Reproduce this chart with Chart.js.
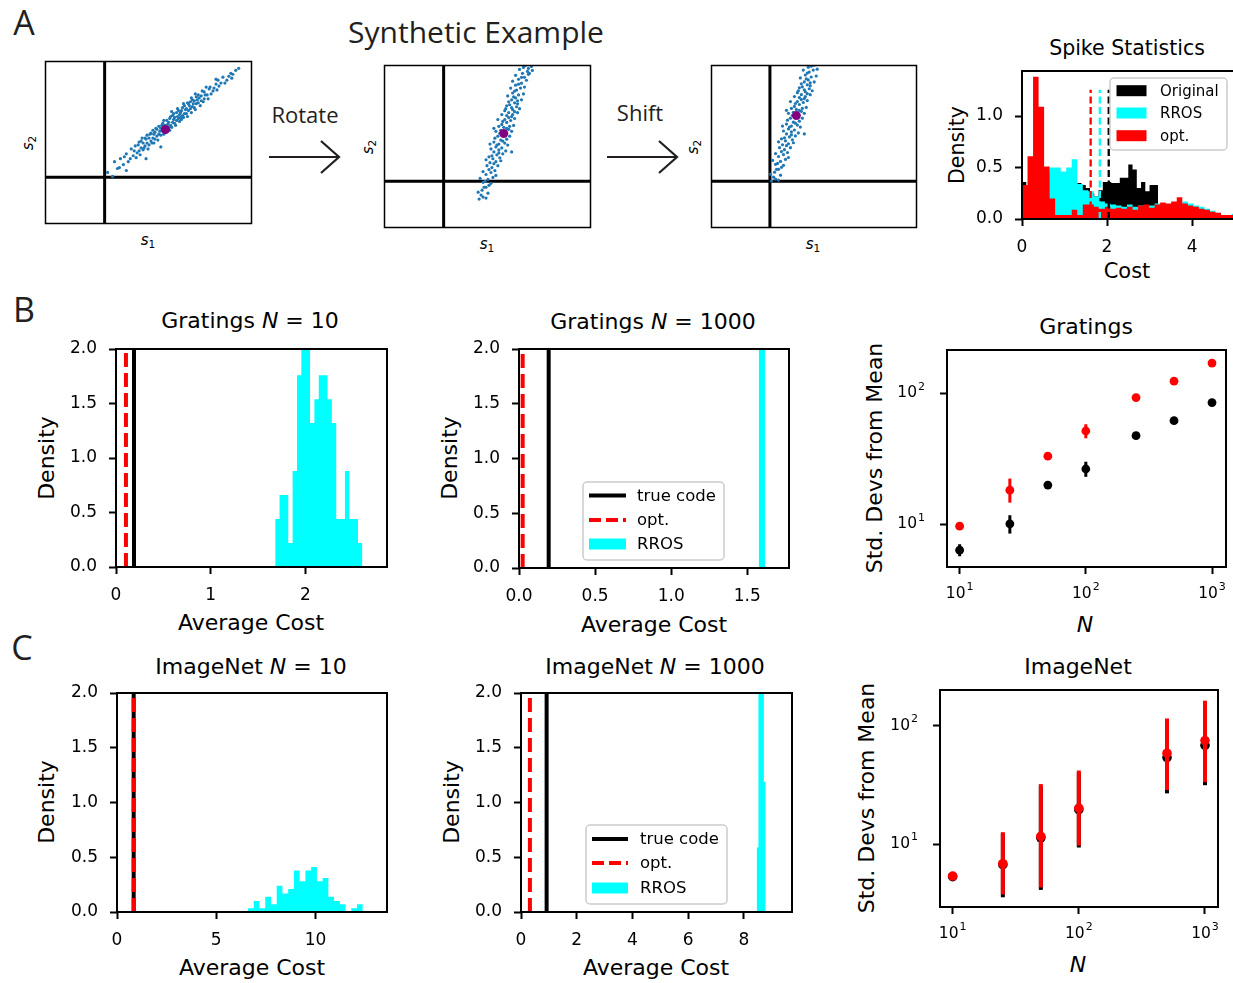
<!DOCTYPE html>
<html>
<head>
<meta charset="utf-8">
<script src="https://cdn.jsdelivr.net/npm/chart.js@4.4.1/dist/chart.umd.min.js"></script>
<style>
  html, body { margin: 0; padding: 0; background: #fff; overflow: hidden; }
  body { width: 1233px; height: 983px; position: relative; font-family: 'DejaVu Sans', sans-serif; }
  canvas { position: absolute; }
  .t { position: absolute; transform: translate(-50%, -50%); white-space: nowrap; color: #000; line-height: 1; }
  .rot { transform: translate(-50%, -50%) rotate(-90deg); }
  .my { font-family: 'Open Sans', sans-serif; color: #231f20; }
  .m22 { font-size: 22px; }
  .sub { font-size: 0.7em; font-style: normal; position: relative; top: 0.25em; }
</style>
</head>
<body>
<svg width="1233" height="983" style="position:absolute;left:0;top:0">
  <g stroke="#231f20" stroke-width="2.2" fill="none">
    <line x1="269" y1="157" x2="339" y2="157"/>
    <polyline points="321,141 339,157 321,173"/>
    <line x1="607" y1="157" x2="677" y2="157"/>
    <polyline points="659,141 677,157 659,173"/>
  </g>
</svg>

<div class="t my" style="left:24px;top:22px;font-size:34px">A</div>
<div class="t my" style="left:24px;top:309px;font-size:34px">B</div>
<div class="t my" style="left:22px;top:647px;font-size:34px">C</div>
<div class="t my" style="left:476px;top:32px;font-size:30px">Synthetic Example</div>
<div class="t my" style="left:305px;top:114px;font-size:22px">Rotate</div>
<div class="t my" style="left:640px;top:112px;font-size:22px">Shift</div>

<div class="t" style="left:148px;top:240px;font-size:15px"><i>s</i><span class="sub">1</span></div>
<div class="t" style="left:487px;top:244px;font-size:15px"><i>s</i><span class="sub">1</span></div>
<div class="t" style="left:813px;top:244px;font-size:15px"><i>s</i><span class="sub">1</span></div>
<div class="t rot" style="left:28px;top:143px;font-size:15px"><i>s</i><span class="sub">2</span></div>
<div class="t rot" style="left:368px;top:147px;font-size:15px"><i>s</i><span class="sub">2</span></div>
<div class="t rot" style="left:693px;top:147px;font-size:15px"><i>s</i><span class="sub">2</span></div>

<div class="t" style="left:1127px;top:48px;font-size:20.5px">Spike Statistics</div>
<div class="t rot" style="left:957px;top:145px;font-size:20.5px">Density</div>
<div class="t" style="left:1127px;top:271px;font-size:21px">Cost</div>

<div class="t m22" style="left:250px;top:321px">Gratings <i>N</i> = 10</div>
<div class="t m22" style="left:653px;top:322px">Gratings <i>N</i> = 1000</div>
<div class="t m22" style="left:1086px;top:327px">Gratings</div>
<div class="t m22" style="left:251px;top:667px">ImageNet <i>N</i> = 10</div>
<div class="t m22" style="left:655px;top:667px">ImageNet <i>N</i> = 1000</div>
<div class="t m22" style="left:1078px;top:667px">ImageNet</div>

<div class="t m22" style="left:251px;top:623px">Average Cost</div>
<div class="t m22" style="left:654px;top:625px">Average Cost</div>
<div class="t m22" style="left:252px;top:968px">Average Cost</div>
<div class="t m22" style="left:656px;top:968px">Average Cost</div>
<div class="t m22" style="left:1085px;top:625px"><i>N</i></div>
<div class="t m22" style="left:1078px;top:965px"><i>N</i></div>

<div class="t m22 rot" style="left:47px;top:458px">Density</div>
<div class="t m22 rot" style="left:450px;top:458px">Density</div>
<div class="t m22 rot" style="left:47px;top:802px">Density</div>
<div class="t m22 rot" style="left:452px;top:802px">Density</div>
<div class="t m22 rot" style="left:875px;top:458px">Std. Devs from Mean</div>
<div class="t m22 rot" style="left:867px;top:798px">Std. Devs from Mean</div>

<script>
// ---------- Panel A: synthetic responses (arbitrary units, origin at the black axes) ----------
const cloudBefore = [
  [0.3,0.5],[0.8,0.1],[1.0,1.6],[1.3,0.9],[1.6,1.9],[1.9,1.3],[2.2,2.4],[2.2,0.7],[2.4,1.6],[2.7,2.9],
  [2.9,2.2],[3.1,3.2],[3.3,2.5],[3.5,3.6],[3.5,2.7],[3.7,3.0],[3.7,3.7],[3.9,2.8],[3.9,3.5],[4.1,4.0],
  [4.1,3.2],[4.2,1.9],[4.3,3.5],[4.3,4.3],[4.5,3.3],[4.5,4.0],[4.7,4.5],[4.7,3.7],[4.9,4.0],[4.9,4.8],
  [5.1,3.9],[5.1,4.6],[5.3,4.9],[5.3,4.2],[5.5,4.4],[5.5,5.2],[5.7,4.3],[5.7,5.0],[5.7,3.1],[5.9,5.5],
  [5.9,4.7],[6.1,5.3],[6.3,4.9],[6.3,5.8],[6.5,5.1],[6.5,5.6],[6.7,6.2],[6.7,5.3],[6.9,5.6],[6.9,6.3],
  [7.1,5.5],[7.1,6.1],[7.3,6.6],[7.3,5.8],[7.5,6.0],[7.5,6.8],[7.7,6.1],[7.7,6.6],[7.9,7.1],[7.9,6.3],
  [8.1,6.5],[8.1,7.3],[8.3,7.0],[8.3,6.5],[8.5,7.5],[8.5,6.8],[8.7,7.0],[8.7,7.7],[8.9,7.2],[8.9,7.9],
  [9.1,7.8],[9.1,7.1],[9.3,8.2],[9.3,7.5],[9.5,7.6],[9.5,8.4],[9.8,8.3],[9.8,7.8],[10.1,8.7],[10.1,8.0],
  [10.4,8.4],[10.7,9.2],[11.0,8.8],[11.3,9.5],[11.3,10.0],[11.6,9.3],[12.0,10.2],[12.4,9.9],[12.8,10.6],
  [12.9,10.1],[13.3,10.9],[13.6,11.1],
  [1.5,1.0],[2.0,2.1],[2.6,1.9],[3.0,2.7],[3.2,2.0],[3.4,3.3],[3.6,2.3],[3.8,4.0],[4.0,3.0],[4.2,3.9],
  [4.4,2.9],[4.6,4.4],[4.8,3.5],[5.0,4.4],[5.0,3.5],[5.2,5.0],[5.4,3.8],[5.6,4.7],[5.8,5.3],[6.0,4.4],
  [6.0,5.8],[6.2,4.6],[6.4,5.4],[6.6,4.8],[6.6,6.0],[6.8,5.1],[6.8,6.7],[7.0,5.9],[7.0,6.5],[7.2,5.3],
  [7.4,6.2],[7.4,7.0],[7.6,5.7],[7.6,6.4],[7.8,6.8],[7.8,5.9],[8.0,6.1],[8.0,7.5],[8.2,6.9],[8.4,7.6],
  [8.4,6.2],[8.6,7.3],[8.8,6.6],[8.8,8.1],[9.0,7.5],[9.2,6.9],[9.2,8.5],[9.4,7.9],[9.6,8.1],[9.7,7.3],
  [9.9,8.8],[10.0,7.7],[10.2,8.4],[10.3,9.2],[10.5,8.0],[10.6,9.0],[10.8,8.5],[11.1,9.1],[11.4,8.9],
  [11.5,9.9],[11.8,9.6],[12.2,9.6],[12.6,10.3],[13.0,10.5]
];
const cloudRotated = [
  [3.6,-1.8],[4.0,-1.6],[3.8,-1.4],[4.5,-1.2],[3.9,-0.9],[4.3,-0.6],[4.6,-0.4],[4.0,-0.1],[4.5,0.2],[5.0,0.4],
  [4.3,0.7],[4.8,0.9],[5.2,1.1],[4.6,1.2],[4.9,1.4],[5.5,1.6],[4.7,1.9],[5.3,2.0],[5.0,2.3],[5.7,2.4],
  [4.6,2.5],[5.4,2.7],[6.0,2.8],[6.9,3.0],[5.1,3.0],[5.6,3.2],[5.9,3.4],[5.3,3.5],[5.6,3.8],[6.2,3.9],
  [5.1,4.0],[5.8,4.2],[6.4,4.3],[5.5,4.6],[6.0,4.7],[6.3,5.0],[5.8,5.2],[6.6,5.3],[5.1,5.4],[6.1,5.5],
  [6.7,5.6],[5.9,5.8],[6.4,6.0],[6.8,6.2],[6.2,6.3],[6.6,6.5],[6.4,6.7],[7.0,6.8],[6.6,7.0],[7.2,7.1],
  [6.3,7.4],[6.9,7.5],[7.4,7.6],[6.7,7.8],[7.2,8.0],[7.5,8.2],[6.9,8.3],[7.1,8.6],[7.6,8.8],[7.0,9.0],
  [7.4,9.3],[7.8,9.5],[7.3,9.8],[7.9,10.0],[7.6,10.4],[8.2,10.6],[8.6,10.9],[8.0,11.0],[8.5,11.2],[8.6,11.5],
  [8.1,11.6],[8.9,11.7],
  [4.3,-1.7],[3.5,-1.1],[4.1,-0.6],[4.8,-0.2],[3.7,0.3],[4.2,0.0],[5.3,0.6],[4.0,1.0],[4.4,1.6],[5.1,1.8],
  [5.8,2.1],[4.3,2.2],[4.9,2.6],[5.6,2.9],[6.3,3.1],[4.8,3.3],[5.4,3.7],[6.5,3.7],[4.7,3.8],[6.0,4.1],
  [5.2,4.4],[6.7,4.6],[5.7,4.9],[5.3,5.1],[6.9,5.1],[6.4,5.4],[5.6,5.6],[7.1,5.7],[6.0,6.1],[5.5,6.3],
  [7.2,6.4],[6.9,6.6],[5.9,6.8],[7.5,7.0],[6.2,7.2],[7.0,7.3],[7.7,7.4],[6.4,7.7],[7.5,7.9],[6.6,8.1],
  [7.9,8.3],[7.3,8.5],[6.5,8.7],[8.1,8.9],[7.2,9.2],[6.8,9.5],[8.2,9.6],[7.6,9.9],[7.0,10.2],[8.4,10.3],
  [7.9,10.6],[7.3,10.8],[8.7,11.0],[7.7,11.4],[9.0,11.3],[8.3,11.8]
];
const cloudMeans = [[6.17, 4.87], [6.1, 4.87]];
const shiftedOrigin = [3.43, -1.83];   // where the axes sit after the shift, in rotated-cloud units

// ---------- Spike statistics ----------
const spikeBinWidths = [0.1, 0.13, 0.13];   // Original, RROS, opt.
const spikeOriginal = [0.36,0.15,0.15,0.15,0.15,0.2,0.2,0.2,0.25,0.25,0.25,0.3,0.3,0.35,0.33,0.30,
  0.25,0.22,0.28,0.36,0.36,0.35,0.35,0.40,0.40,0.53,0.48,0.30,0.36,0.27,0.33,0.33];
const spikeRros = [0.10,0.20,0.30,0.35,0.45,0.50,0.50,0.46,0.50,0.58,0.34,0.28,0.27,0.22,0.17,0.15,
  0.14,0.13,0.12,0.14,0.12,0.13,0.12,0.13,0.15,0.15,0.13,0.16,0.14,0.17,0.15,0.13,0.12,0.10,0.08,0.06,
  0.04,0.04,0.05];
const spikeOpt = [0.33,0.61,1.38,1.09,0.51,0.20,0.04,0.04,0.04,0.09,0.04,0.14,0.14,0.12,0.10,0.12,
  0.10,0.11,0.10,0.12,0.09,0.13,0.14,0.11,0.14,0.16,0.15,0.17,0.21,0.15,0.13,0.12,0.10,0.09,0.07,0.06,
  0.04,0.04,0.04];
const spikeMeanCost = [2.04, 1.83, 1.615];  // Original, RROS, opt.
const spikeCostTicks = [0, 2, 4];
const spikeDensityTicks = [0, 0.5, 1.0];

// ---------- B / C: average cost histograms (Gratings 10, Gratings 1000, ImageNet 10, ImageNet 1000) ----------
const rrosStart = [1.68, 1.575, 6.6, 8.46];
const rrosWidth = [0.046, 0.043, 0.289, 0.065];
const rrosGratings10 = [0.44,0.66,0.66,0.22,0.88,1.76,2.6,2.6,1.32,1.54,1.76,1.76,1.54,1.32,0.44,0.44,0.88,0.44,0.44,0.22];
const rrosGratings1000 = [23.0];
const rrosImageNet10 = [0.035,0.10,0.035,0.14,0.07,0.24,0.17,0.21,0.38,0.28,0.38,0.41,0.28,0.31,0.14,0.10,0.07,0,0.035,0.07];
const rrosImageNet1000 = [0.59,4.0,5.0,4.0,1.19];
const trueCodeCost = [0.19, 0.195, 0.84, 0.92];
const optCost = [0.105, 0.024, 0.84, 0.32];
const densityTicks = [0, 0.5, 1.0, 1.5, 2.0];
const costTicks = [[0, 1, 2], [0, 0.5, 1.0, 1.5], [0, 5, 10], [0, 2, 4, 6, 8]];

// ---------- B / C: std devs from mean ----------
const gratingsN = [10, 25, 50, 100, 250, 500, 1000];
const gratingsOpt = [9.66, 18.2, 33.1, 51.5, 92.7, 123.6, 169.9];
const gratingsOptLow = [9.4, 14.6, 32.2, 45.3, 90.5, 121, 166];
const gratingsOptHigh = [9.9, 22.3, 34.0, 58.0, 95.0, 126, 174];
const gratingsTrue = [6.33, 10.06, 19.9, 26.4, 47.4, 61.8, 84.9];
const gratingsTrueLow = [5.69, 8.48, 19.4, 23.0, 46.5, 60.8, 83.5];
const gratingsTrueHigh = [7.03, 11.7, 20.4, 30.0, 48.3, 62.8, 86.3];
const imagenetN = [10, 25, 50, 100, 500, 1000];
const imagenetOpt = [5.37, 6.82, 11.6, 20.1, 58.5, 74.8];
const imagenetOptLow = [5.2, 3.75, 4.3, 9.7, 28.6, 33.3];
const imagenetOptHigh = [5.5, 12.6, 32.1, 41.8, 115, 162.5];
const imagenetTrue = [5.3, 6.7, 11.3, 19.5, 53.7, 68.2];
const imagenetTrueLow = [5.1, 3.55, 4.1, 9.35, 26.8, 31.4];
const imagenetTrueHigh = [5.5, 12.3, 31.0, 40.5, 110, 155];
const decadeTicks = [10, 100, 1000];

// ---------- plumbing ----------
Chart.defaults.font.family = "'DejaVu Sans', sans-serif";
Chart.defaults.font.size = 17;
Chart.defaults.color = '#000';

const X_H = 45, Y_W = 70, PAD_T = 26, PAD_R = 30;
const RED = '#ff0000', CYAN = '#00ffff', BLACK = '#000000';

const vlines = {
  id: 'vlines',
  afterDatasetsDraw(chart, args, o) {
    if (!o || !o.lines) return;
    const { ctx, chartArea: a, scales: { x, y } } = chart;
    ctx.save();
    ctx.beginPath(); ctx.rect(a.left, a.top, a.right - a.left, a.bottom - a.top); ctx.clip();
    o.lines.forEach(l => {
      const px = x.getPixelForValue(l.value);
      const top = l.top != null ? y.getPixelForValue(l.top) : a.top;
      ctx.strokeStyle = l.color; ctx.lineWidth = l.width; ctx.setLineDash(l.dash ? [...l.dash] : []);
      ctx.beginPath(); ctx.moveTo(px, a.bottom); ctx.lineTo(px, top); ctx.stroke();
    });
    ctx.restore();
  }
};

const boxLegend = {
  id: 'boxLegend',
  afterDatasetsDraw(chart, args, o) {
    if (!o || !o.items) return;
    const { ctx, chartArea: a } = chart;
    const x0 = a.left + o.x, y0 = a.top + o.y;
    ctx.save();
    ctx.beginPath(); ctx.roundRect(x0, y0, o.w, o.h, 4);
    ctx.fillStyle = 'rgba(255,255,255,0.8)'; ctx.fill();
    ctx.strokeStyle = '#cccccc'; ctx.lineWidth = 1.5; ctx.stroke();
    ctx.font = o.font + 'px "DejaVu Sans"';
    ctx.textBaseline = 'middle';
    o.items.forEach((it, i) => {
      const cy = y0 + o.rows[i];
      if (it.kind === 'patch') {
        ctx.fillStyle = it.color;
        ctx.fillRect(x0 + o.hx, cy - o.ph / 2, o.hw, o.ph);
      } else {
        ctx.strokeStyle = it.color; ctx.lineWidth = o.lw;
        ctx.setLineDash(it.kind === 'dash' ? [...o.dash] : []);
        ctx.beginPath(); ctx.moveTo(x0 + o.hx, cy); ctx.lineTo(x0 + o.hx + o.hw, cy); ctx.stroke();
        ctx.setLineDash([]);
      }
      ctx.fillStyle = '#000';
      ctx.fillText(it.label, x0 + o.tx, cy + 1);
    });
    ctx.restore();
  }
};

const errbars = {
  id: 'errbars',
  beforeDatasetDraw(chart, args) {
    const ds = chart.data.datasets[args.index];
    if (!ds.errLow) return;
    const { ctx, scales: { x, y } } = chart;
    ctx.save();
    ctx.strokeStyle = ds.backgroundColor; ctx.lineWidth = ds.errWidth;
    ds.data.forEach((p, i) => {
      const px = x.getPixelForValue(p.x);
      ctx.beginPath();
      ctx.moveTo(px, y.getPixelForValue(ds.errLow[i]));
      ctx.lineTo(px, y.getPixelForValue(ds.errHigh[i]));
      ctx.stroke();
    });
    ctx.restore();
  }
};

const originLines = {
  id: 'originLines',
  beforeDatasetsDraw(chart, args, o) {
    if (!o || o.x == null) return;
    const { ctx, chartArea: a, scales: { x, y } } = chart;
    const px = x.getPixelForValue(o.x), py = y.getPixelForValue(o.y);
    ctx.save(); ctx.strokeStyle = '#000'; ctx.lineWidth = 3;
    ctx.beginPath();
    ctx.moveTo(px, a.top); ctx.lineTo(px, a.bottom);
    ctx.moveTo(a.left, py); ctx.lineTo(a.right, py);
    ctx.stroke(); ctx.restore();
  }
};

const frame = {
  id: 'frame',
  afterDatasetsDraw(chart, args, o) {
    const { ctx, chartArea: a } = chart;
    ctx.save(); ctx.strokeStyle = '#000'; ctx.lineWidth = (o && o.width) || 2;
    ctx.strokeRect(a.left, a.top, a.right - a.left, a.bottom - a.top);
    ctx.restore();
  }
};

// 10^n tick labels with a real superscript, placed at the log scale's own tick pixels
const decadeLabels = {
  id: 'decadeLabels',
  afterDraw(chart, args, o) {
    if (!o || !o.size) return;
    const { ctx } = chart;
    ['x', 'y'].forEach(id => {
      const s = chart.scales[id];
      if (!s || s.type !== 'logarithmic') return;
      s.ticks.forEach(t => {
        const p = s.getPixelForValue(t.value);
        const exp = String(Math.round(Math.log10(t.value)));
        ctx.save();
        ctx.fillStyle = '#000'; ctx.textBaseline = 'middle'; ctx.textAlign = 'left';
        ctx.font = o.size + 'px "DejaVu Sans"';
        const wb = ctx.measureText('10').width;
        ctx.font = o.supSize + 'px "DejaVu Sans"';
        const we = ctx.measureText(exp).width;
        const total = wb + 1 + we;
        let x0, cy;
        if (id === 'x') { x0 = p - total / 2; cy = s.top + o.offX; }
        else { x0 = s.right - o.offY - total; cy = p; }
        ctx.font = o.size + 'px "DejaVu Sans"'; ctx.fillText('10', x0, cy);
        ctx.font = o.supSize + 'px "DejaVu Sans"'; ctx.fillText(exp, x0 + wb + 1, cy - o.size * 0.42);
        ctx.restore();
      });
    });
  }
};

Chart.register(vlines, boxLegend, errbars, originLines, frame, decadeLabels);

function mount(rect, pad, config) {
  const c = document.createElement('canvas');
  const w = rect.r - rect.l + pad.l + pad.r;
  const h = rect.b - rect.t + pad.t + pad.b;
  c.width = w; c.height = h;
  c.style.left = (rect.l - pad.l) + 'px';
  c.style.top = (rect.t - pad.t) + 'px';
  c.style.width = w + 'px'; c.style.height = h + 'px';
  document.body.appendChild(c);
  config.options.responsive = false;
  config.options.animation = false;
  config.options.devicePixelRatio = 1;
  config.options.events = [];
  return new Chart(c, config);
}

function axis(kind, min, max, ticks, fmt, isX, size) {
  return {
    type: kind, min, max, bounds: 'data',
    afterBuildTicks: s => { s.ticks = ticks.filter(v => v >= min && v <= max).map(v => ({ value: v })); },
    afterFit: s => { if (isX) s.height = X_H; else s.width = Y_W; },
    grid: { display: true, drawOnChartArea: false, drawTicks: true, tickLength: 7, tickWidth: 2, tickColor: '#000', color: '#000' },
    border: { display: false },
    ticks: { display: kind !== 'logarithmic', autoSkip: false, maxRotation: 0, minRotation: 0, color: '#000',
             font: { size: size || 17 }, padding: isX ? 11 : 12, callback: fmt },
  };
}

const fmt1 = v => v.toFixed(1);
const fmtInt = v => String(v);
const fmtBlank = () => '';   // labels for log axes are drawn by decadeLabels

function histSeries(start, width, heights, color) {
  const pts = heights.map((h, i) => ({ x: start + i * width, y: h }));
  pts.push({ x: start + heights.length * width, y: 0 });
  return { data: pts, stepped: true, fill: 'origin', backgroundColor: color,
           borderWidth: 0, borderColor: 'rgba(0,0,0,0)', pointRadius: 0 };
}

function axesChart(rect, scales, datasets, plugins) {
  return mount(rect, { l: Y_W, t: PAD_T, r: PAD_R, b: X_H }, {
    type: 'line',
    data: { datasets },
    options: {
      layout: { padding: { left: 0, top: PAD_T, right: PAD_R, bottom: 0 } },
      scales,
      plugins: Object.assign({ legend: { display: false }, tooltip: { enabled: false }, frame: { width: 2 } }, plugins),
    }
  });
}

function cloudChart(rect, points, mean, range, origin) {
  return mount(rect, { l: 3, t: 3, r: 3, b: 3 }, {
    type: 'scatter',
    data: { datasets: [
      { data: [{ x: mean[0], y: mean[1] }], backgroundColor: '#800080', pointRadius: 4.5, borderWidth: 0 },
      { data: points.map(p => ({ x: p[0], y: p[1] })), backgroundColor: '#1f77b4', pointRadius: 1.6, borderWidth: 0 },
    ] },
    options: {
      layout: { padding: 3 },
      scales: {
        x: { type: 'linear', display: false, min: range[0], max: range[1] },
        y: { type: 'linear', display: false, min: range[2], max: range[3] },
      },
      plugins: { legend: { display: false }, tooltip: { enabled: false }, frame: { width: 1.5 },
                 originLines: { x: origin[0], y: origin[1] } },
    }
  });
}

// ---------- Panel A ----------
cloudChart({ l: 44, t: 60, r: 253, b: 225 }, cloudBefore, cloudMeans[0], [-6.0, 14.9, -4.7, 11.8], [0, 0]);
cloudChart({ l: 383, t: 64, r: 592, b: 229 }, cloudRotated, cloudMeans[1], [-6.0, 14.9, -4.7, 11.8], [0, 0]);
cloudChart({ l: 710, t: 64, r: 918, b: 229 }, cloudRotated, cloudMeans[1],
  [shiftedOrigin[0] - 5.9, shiftedOrigin[0] + 14.8, shiftedOrigin[1] - 4.7, shiftedOrigin[1] + 11.8], shiftedOrigin);

axesChart({ l: 1022, t: 71, r: 1235, b: 219 },
  { x: axis('linear', 0, 5.01, spikeCostTicks, fmtInt, true), y: axis('linear', 0, 1.437, spikeDensityTicks, fmt1, false) },
  [histSeries(0, spikeBinWidths[2], spikeOpt, RED),
   histSeries(0, spikeBinWidths[1], spikeRros, CYAN),
   histSeries(0, spikeBinWidths[0], spikeOriginal, BLACK)],
  {
    vlines: { lines: [
      { value: spikeMeanCost[2], color: RED, width: 2.3, dash: [7, 3.5], top: 1.255 },
      { value: spikeMeanCost[1], color: CYAN, width: 2.3, dash: [7, 3.5], top: 1.255 },
      { value: spikeMeanCost[0], color: BLACK, width: 2.3, dash: [7, 3.5], top: 1.255 },
    ] },
    boxLegend: { x: 88, y: 7, w: 117, h: 72, rows: [12.7, 35, 57.7], hx: 6.5, hw: 30, ph: 11, tx: 50, font: 15, lw: 3, dash: [8, 4],
      items: [{ kind: 'patch', color: BLACK, label: 'Original' }, { kind: 'patch', color: CYAN, label: 'RROS' },
              { kind: 'patch', color: RED, label: 'opt.' }] },
  });

// ---------- B / C histograms ----------
const panelRects = [
  { l: 116, t: 349, r: 387, b: 567 },
  { l: 519, t: 349, r: 789, b: 568 },
  { l: 117, t: 693, r: 387, b: 912 },
  { l: 521, t: 693, r: 792, b: 912 },
];
const panelXMax = [2.86, 1.774, 13.6, 9.73];
const panelFmt = [fmtInt, fmt1, fmtInt, fmtInt];
const rrosHeights = [rrosGratings10, rrosGratings1000, rrosImageNet10, rrosImageNet1000];
const legendBoxes = [
  null,
  { x: 64, y: 133, w: 141, h: 78, rows: [13.5, 38, 62], hx: 6, hw: 37, ph: 11, tx: 54, font: 16.5, lw: 4, dash: [12, 5] },
  null,
  { x: 65, y: 132, w: 141, h: 79, rows: [14, 38, 63], hx: 6, hw: 36, ph: 11, tx: 54, font: 16.5, lw: 4, dash: [12, 5] },
];

panelRects.forEach((rect, k) => {
  const leg = legendBoxes[k] ? Object.assign({ items: [
    { kind: 'line', color: BLACK, label: 'true code' },
    { kind: 'dash', color: RED, label: 'opt.' },
    { kind: 'patch', color: CYAN, label: 'RROS' }] }, legendBoxes[k]) : {};
  axesChart(rect,
    { x: axis('linear', 0, panelXMax[k], costTicks[k], panelFmt[k], true),
      y: axis('linear', 0, 2.0, densityTicks, fmt1, false) },
    [histSeries(rrosStart[k], rrosWidth[k], rrosHeights[k], CYAN)],
    {
      vlines: { lines: [
        { value: trueCodeCost[k], color: BLACK, width: 4 },
        { value: optCost[k], color: RED, width: 4, dash: [14, 6] },
      ] },
      boxLegend: leg,
    });
});

// ---------- B / C std devs from mean ----------
function stdChart(rect, n, xr, yr, opt, optLo, optHi, tru, truLo, truHi, radius, ew) {
  const pts = (ys) => n.map((v, i) => ({ x: v, y: ys[i] }));
  axesChart(rect,
    { x: axis('logarithmic', xr[0], xr[1], decadeTicks, fmtBlank, true),
      y: axis('logarithmic', yr[0], yr[1], decadeTicks, fmtBlank, false) },
    [
      { data: pts(opt), showLine: false, backgroundColor: RED, borderWidth: 0, pointRadius: radius,
        errLow: optLo, errHigh: optHi, errWidth: ew },
      { data: pts(tru), showLine: false, backgroundColor: BLACK, borderWidth: 0, pointRadius: radius,
        errLow: truLo, errHigh: truHi, errWidth: ew },
    ],
    { decadeLabels: { size: 15.5, supSize: 11, offX: 27, offY: 22 } });
}

stdChart({ l: 947, t: 350, r: 1226, b: 567 }, gratingsN, [7.94, 1291], [4.71, 214],
  gratingsOpt, gratingsOptLow, gratingsOptHigh, gratingsTrue, gratingsTrueLow, gratingsTrueHigh, 4.4, 3);
stdChart({ l: 940, t: 690, r: 1218, b: 907 }, imagenetN, [7.94, 1268], [2.94, 200],
  imagenetOpt, imagenetOptLow, imagenetOptHigh, imagenetTrue, imagenetTrueLow, imagenetTrueHigh, 4.8, 4);
</script>
</body>
</html>
